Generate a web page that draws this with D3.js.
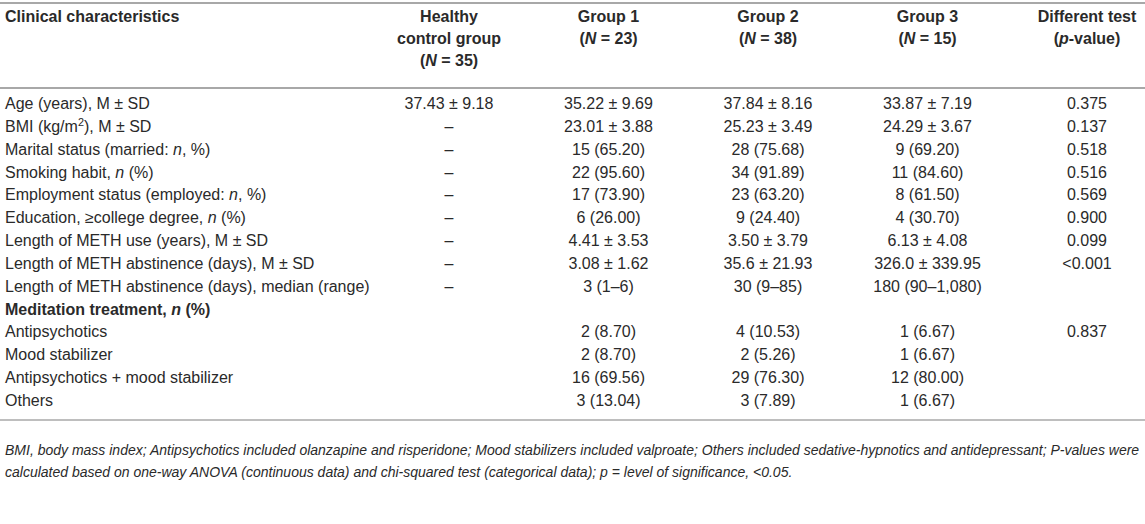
<!DOCTYPE html>
<html>
<head>
<meta charset="utf-8">
<script src="https://cdn.jsdelivr.net/npm/d3@7"></script>
<style>
  body { margin: 0; background: #fff; }
  svg text { font-family: "Liberation Sans", Arial, Helvetica, sans-serif; fill: #2a2a2a; }
</style>
</head>
<body>
<div id="table"></div>
<script>
// table content (*x* = italic, ^x^ = superscript, bold rows flagged separately)
var headers = [
  ["Clinical characteristics"],
  ["Healthy", "control group", "(*N* = 35)"],
  ["Group 1", "(*N* = 23)"],
  ["Group 2", "(*N* = 38)"],
  ["Group 3", "(*N* = 15)"],
  ["Different test", "(*p*-value)"]
];

var rowLabels = [
  "Age (years), M ± SD",
  "BMI (kg/m^2^), M ± SD",
  "Marital status (married: *n*, %)",
  "Smoking habit, *n* (%)",
  "Employment status (employed: *n*, %)",
  "Education, ≥college degree, *n* (%)",
  "Length of METH use (years), M ± SD",
  "Length of METH abstinence (days), M ± SD",
  "Length of METH abstinence (days), median (range)",
  "Meditation treatment, *n* (%)",
  "Antipsychotics",
  "Mood stabilizer",
  "Antipsychotics + mood stabilizer",
  "Others"
];
var boldRows = ["Meditation treatment, *n* (%)"];

var healthy = ["37.43 ± 9.18", "–", "–", "–", "–", "–", "–", "–", "–", "", "", "", "", ""];
var group1 = ["35.22 ± 9.69", "23.01 ± 3.88", "15 (65.20)", "22 (95.60)", "17 (73.90)", "6 (26.00)",
  "4.41 ± 3.53", "3.08 ± 1.62", "3 (1–6)", "", "2 (8.70)", "2 (8.70)", "16 (69.56)", "3 (13.04)"];
var group2 = ["37.84 ± 8.16", "25.23 ± 3.49", "28 (75.68)", "34 (91.89)", "23 (63.20)", "9 (24.40)",
  "3.50 ± 3.79", "35.6 ± 21.93", "30 (9–85)", "", "4 (10.53)", "2 (5.26)", "29 (76.30)", "3 (7.89)"];
var group3 = ["33.87 ± 7.19", "24.29 ± 3.67", "9 (69.20)", "11 (84.60)", "8 (61.50)", "4 (30.70)",
  "6.13 ± 4.08", "326.0 ± 339.95", "180 (90–1,080)", "", "1 (6.67)", "1 (6.67)", "12 (80.00)", "1 (6.67)"];
var pValues = ["0.375", "0.137", "0.518", "0.516", "0.569", "0.900", "0.099", "<0.001", "", "", "0.837", "", "", ""];

var footnote = [
  "BMI, body mass index; Antipsychotics included olanzapine and risperidone; Mood stabilizers included valproate; Others included sedative-hypnotics and antidepressant; P-values were",
  "calculated based on one-way ANOVA (continuous data) and chi-squared test (categorical data); p = level of significance, <0.05."
];

var svgWidth = 1145;
var svgHeight = 524;
var fontSize = 16;

var svg = d3.select("#table")
  .append("svg")
  .attr("width", svgWidth)
  .attr("height", svgHeight);

// columns: 0 is the label column (left aligned), the rest are centred
var colKeys = d3.range(headers.length);
var xCol = d3.scalePoint()
  .domain(colKeys.slice(1))
  .range([449, 1087]);
var labelX = 5;

// body rows
var yRow = d3.scalePoint()
  .domain(d3.range(rowLabels.length))
  .range([109, 406]);

// header lines
var yHead = d3.scalePoint()
  .domain([0, 1, 2])
  .range([22, 66]);

// write a string with *italic* and ^sup^ markup into a text element
function rich(sel, str) {
  var parts = str.split(/(\*[^*]+\*|\^[^^]+\^)/).filter(function(p) { return p !== ""; });
  var back = 0;
  parts.forEach(function(p) {
    var t;
    if (p[0] === "*") {
      t = sel.append("tspan").attr("font-style", "italic").text(p.slice(1, -1));
    } else if (p[0] === "^") {
      sel.append("tspan").attr("font-size", fontSize * 0.68).attr("dy", -6).text(p.slice(1, -1));
      back = 6;
      return;
    } else {
      t = sel.append("tspan").text(p);
    }
    if (back) { t.attr("dy", back); back = 0; }
  });
}

// rules
var rules = [
  {y: 3, w: 2},
  {y: 88, w: 2},
  {y: 420, w: 1.5}
];
svg.selectAll("line.rule")
  .data(rules)
  .enter()
  .append("line")
  .attr("class", "rule")
  .attr("x1", 0)
  .attr("x2", svgWidth)
  .attr("y1", d => d.y)
  .attr("y2", d => d.y)
  .attr("stroke", "#a8a8a8")
  .attr("stroke-width", d => d.w);

// header cells
headers.forEach(function(lines, c) {
  lines.forEach(function(line, i) {
    var t = svg.append("text")
      .attr("x", c === 0 ? labelX : xCol(c))
      .attr("y", yHead(i))
      .attr("text-anchor", c === 0 ? "start" : "middle")
      .attr("font-size", fontSize)
      .attr("font-weight", "bold");
    rich(t, line);
  });
});

// label column
svg.selectAll("text.label")
  .data(rowLabels)
  .enter()
  .append("text")
  .attr("class", "label")
  .attr("x", labelX)
  .attr("y", (d, i) => yRow(i))
  .attr("font-size", fontSize)
  .attr("font-weight", d => boldRows.indexOf(d) >= 0 ? "bold" : "normal")
  .each(function(d) { rich(d3.select(this), d); });

// value columns
var series = [healthy, group1, group2, group3, pValues];
series.forEach(function(vals, s) {
  svg.selectAll("text.col" + s)
    .data(vals)
    .enter()
    .append("text")
    .attr("class", "col" + s)
    .attr("x", xCol(s + 1))
    .attr("y", (d, i) => yRow(i))
    .attr("text-anchor", "middle")
    .attr("font-size", fontSize)
    .text(d => d);
});

// footnote
svg.selectAll("text.note")
  .data(footnote)
  .enter()
  .append("text")
  .attr("class", "note")
  .attr("x", labelX)
  .attr("y", (d, i) => 455 + i * 22)
  .attr("font-size", 14)
  .attr("font-style", "italic")
  .text(d => d);
</script>
</body>
</html>
